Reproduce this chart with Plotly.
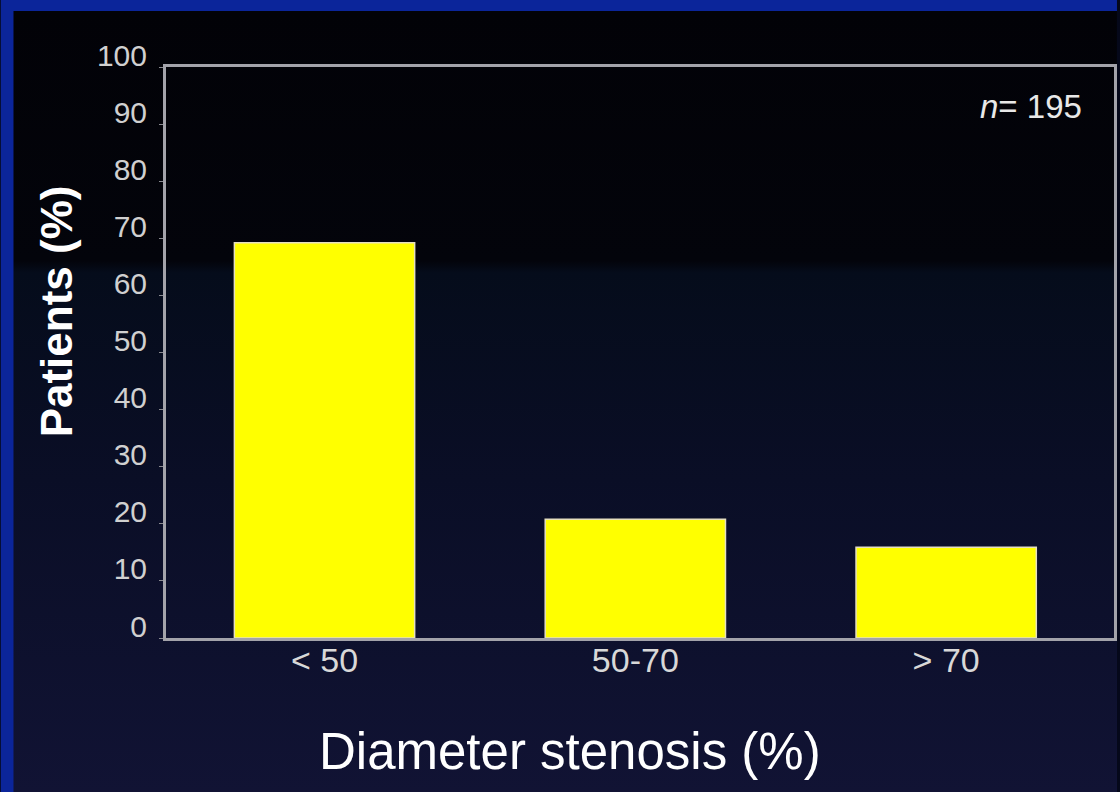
import base64
import plotly.graph_objects as go

# ---- data ----
categories = ["< 50", "50-70", "> 70"]
patients_pct = [69.2, 20.8, 15.9]
y_ticks = list(range(0, 101, 10))
n_label = "<i>n</i>= 195"
x_title = "Diameter stenosis (%)"
y_title = "Patients (%)"

# ---- geometry ----
W, H = 1120, 792
L, R, T, B = 166, 3, 67, 154
pw, ph = W - L - R, H - T - B

svg = f'''<svg xmlns="http://www.w3.org/2000/svg" width="{W}" height="{H}">
<defs><linearGradient id="g" x1="0" y1="0" x2="0" y2="1">
<stop offset="0" stop-color="#020207"/>
<stop offset="0.32" stop-color="#03040b"/>
<stop offset="0.335" stop-color="#050c1b"/>
<stop offset="0.6" stop-color="#0a0e26"/>
<stop offset="1" stop-color="#111334"/>
</linearGradient></defs>
<rect width="{W}" height="{H}" fill="#0b259a"/>
<rect x="13" y="11" width="{W-13}" height="{H-11}" fill="url(#g)"/>
</svg>'''
bg_src = "data:image/svg+xml;base64," + base64.b64encode(svg.encode()).decode()

font = "Liberation Sans, Arial, sans-serif"

fig = go.Figure()
fig.add_trace(go.Bar(
    x=categories, y=patients_pct, width=0.58,
    marker=dict(color="#ffff00", line=dict(color="#e6dfbf", width=1.5)),
    hoverinfo="skip",
))

fig.update_layout(
    width=W, height=H,
    margin=dict(l=L, r=R, t=T, b=B, pad=0),
    paper_bgcolor="#05081a",
    plot_bgcolor="rgba(0,0,0,0)",
    showlegend=False,
    images=[dict(source=bg_src, xref="paper", yref="paper",
                 x=-L / pw, y=1 + T / ph, sizex=W / pw, sizey=H / ph,
                 xanchor="left", yanchor="top", sizing="stretch", layer="below")],
    xaxis=dict(type="category", range=[-0.51, 2.54], showgrid=False,
               showline=True, mirror=True, linecolor="#a3a3aa", linewidth=3,
               ticks="", tickfont=dict(family=font, size=34, color="#d8d8d8"),
               ticklabelstandoff=-10),
    yaxis=dict(range=[0, 100], tickvals=y_ticks, showgrid=False, zeroline=False,
               showline=True, mirror=True, linecolor="#a3a3aa", linewidth=3,
               ticks="outside", ticklen=4, tickcolor="#8a8a90", tickwidth=1,
               tickfont=dict(family=font, size=30, color="#d0d0d0"),
               ticklabelstandoff=6, ticklabelshift=-12),
    annotations=[
        dict(text=n_label, xref="paper", yref="paper", x=0.968, y=0.93,
             xanchor="right", yanchor="middle", showarrow=False,
             font=dict(family=font, size=33, color="#e8e8e8")),
        dict(text=f"<b>{y_title}</b>", xref="paper", yref="paper", x=-0.1146, y=0.5727,
             textangle=-90, xanchor="center", yanchor="middle", showarrow=False,
             font=dict(family=font, size=44, color="#ffffff")),
        dict(text=x_title, xref="paper", yref="paper", x=0.4259, y=-0.1996,
             xanchor="center", yanchor="middle", showarrow=False,
             font=dict(family=font, size=51, color="#ffffff")),
    ],
)

fig.write_html("out.html", config={"displayModeBar": False},
               post_script="document.body.style.margin='0';document.body.style.overflow='hidden';")
